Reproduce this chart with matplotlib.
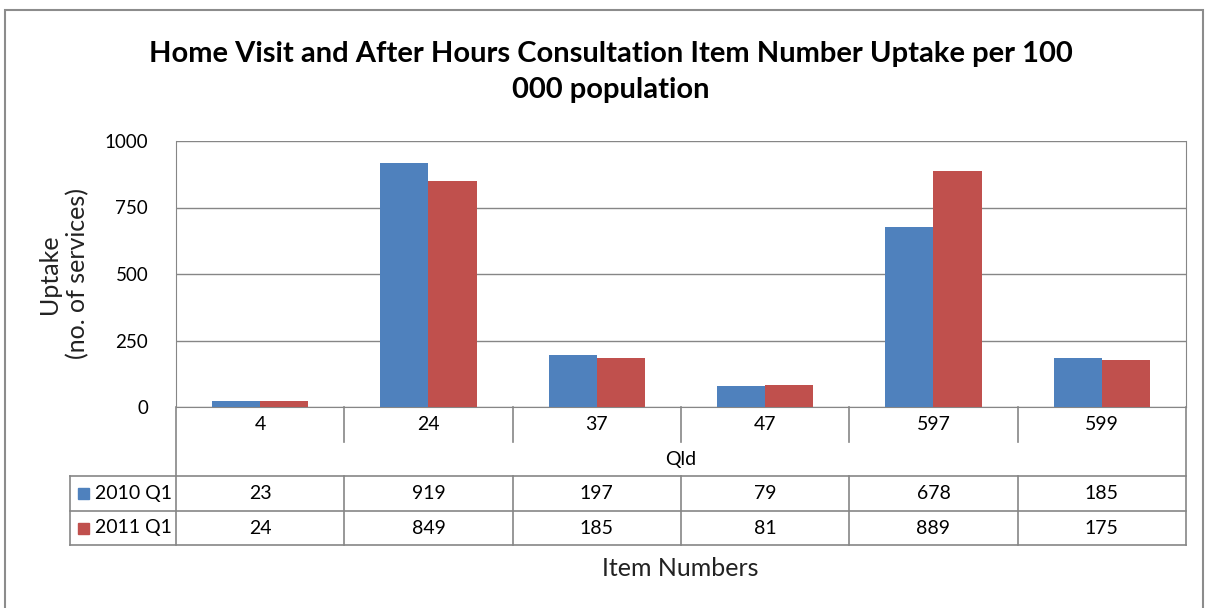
import matplotlib.pyplot as plt
import numpy as np
from matplotlib.lines import Line2D
from matplotlib.patches import Rectangle
import matplotlib.transforms as mtransforms

items = ["4", "24", "37", "47", "597", "599"]
series_names = ["2010 Q1", "2011 Q1"]
uptake_2010 = [23, 919, 197, 79, 678, 185]
uptake_2011 = [24, 849, 185, 81, 889, 175]
colors = ["#4F81BD", "#C0504D"]
region = "Qld"

plt.rcParams["font.family"] = ["Lato", "DejaVu Sans"]

W, H = 1205, 608
fig = plt.figure(figsize=(W / 100, H / 100), dpi=100)
grid_c = "#868686"


def fy(y):
    return 1 - y / H


def fx(x):
    return x / W


# outer chart frame
fig.add_artist(Rectangle((fx(5), fy(700)), fx(1198), 690 / H, transform=fig.transFigure,
                         fill=False, edgecolor="#8c8c8c", linewidth=1.5))

ax = fig.add_axes([fx(176), fy(407), fx(1186) - fx(176), 266 / H])
x = np.arange(len(items))
bw = 0.286
ax.bar(x - bw / 2, uptake_2010, bw, color=colors[0], zorder=3)
ax.bar(x + bw / 2, uptake_2011, bw, color=colors[1], zorder=3)
ax.set_xlim(-0.5, len(items) - 0.5)
ax.set_ylim(0, 1000)
ax.set_yticks([0, 250, 500, 750, 1000])
ax.yaxis.grid(True, color=grid_c, linewidth=1)
ax.set_xticks([])
ax.tick_params(axis="y", length=0, labelsize=13.5, pad=20)
for s in ax.spines.values():
    s.set_color(grid_c)
ax.spines["top"].set_visible(False)
fig.text(fx(64), fy(274), "Uptake\n(no. of services)", rotation=90, ha="center", va="center",
         fontsize=18, color="#222222", linespacing=1.25)

# data table under the axis
tr = mtransforms.blended_transform_factory(ax.transData, fig.transFigure)


def hline(x0, x1, y):
    fig.add_artist(Line2D([fx(x0), fx(x1)], [fy(y), fy(y)], transform=fig.transFigure,
                          color=grid_c, linewidth=1.2))


def vline(xd, y0, y1):
    fig.add_artist(Line2D([xd, xd], [fy(y0), fy(y1)], transform=tr,
                          color=grid_c, linewidth=1.2))


bounds = np.arange(len(items) + 1) - 0.5
for b in bounds[1:-1]:
    vline(b, 407, 442)
vline(bounds[0], 407, 545)
vline(bounds[-1], 407, 545)
for y in (476, 511, 545):
    hline(70, 1186, y)
fig.add_artist(Line2D([fx(70), fx(70)], [fy(476), fy(545)], transform=fig.transFigure,
                      color=grid_c, linewidth=1.2))
for b in bounds[1:-1]:
    vline(b, 476, 545)

for i, lab in enumerate(items):
    fig.text(i, fy(424), lab, transform=tr, ha="center", va="center", fontsize=14)
fig.text((len(items) - 1) / 2, fy(459), region, transform=tr, ha="center", va="center",
         fontsize=14)

rows = [uptake_2010, uptake_2011]
for r, (name, vals) in enumerate(zip(series_names, rows)):
    yc = fy(493.5 + r * 34.5)
    fig.add_artist(Rectangle((fx(78), yc - 5.5 / H), 11 / W, 11 / H,
                             transform=fig.transFigure, color=colors[r]))
    fig.text(fx(95), yc, name, ha="left", va="center", fontsize=14)
    for i, v in enumerate(vals):
        fig.text(i, yc, str(v), transform=tr, ha="center", va="center", fontsize=14)

fig.text(fx(680), fy(568), "Item Numbers", ha="center", va="center", fontsize=18,
         color="#222222")
fig.text(fx(611), fy(72), "Home Visit and After Hours Consultation Item Number Uptake per 100\n000 population",
         ha="center", va="center", fontsize=21, fontweight="bold", linespacing=1.45)

fig.savefig("out.png", dpi=100)
